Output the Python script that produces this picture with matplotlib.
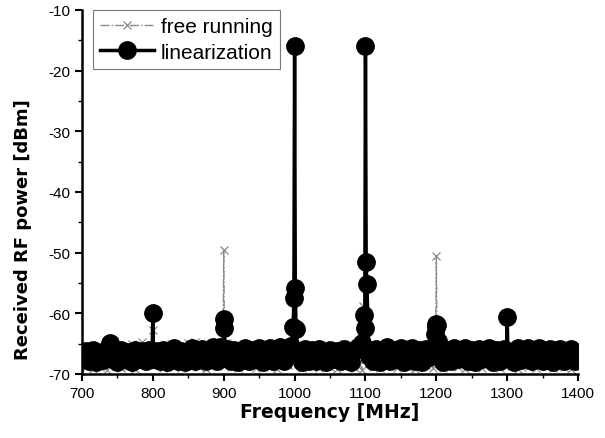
import matplotlib
matplotlib.use("Agg")
import matplotlib.pyplot as plt
from matplotlib.ticker import MultipleLocator

plt.rcParams['axes.unicode_minus'] = False

lin_freq = [700, 705, 710, 715, 720, 725, 730, 735, 740, 745, 750, 755, 760, 765, 770, 775, 780, 785, 790, 795,
            799, 800, 801, 805, 810, 815, 820, 825, 830, 835, 840, 845, 850, 855, 860, 865, 870, 875, 880, 885,
            890, 895, 899, 900, 901, 902, 905, 910, 915, 920, 925, 930, 935, 940, 945, 950, 955, 960, 965, 970,
            975, 980, 985, 990, 995, 998, 999, 1000, 1001, 1002, 1005, 1010, 1015, 1020, 1025, 1030, 1035, 1040,
            1045, 1050, 1055, 1060, 1065, 1070, 1075, 1080, 1085, 1090, 1095, 1098, 1099, 1100, 1101, 1102, 1105,
            1110, 1115, 1120, 1125, 1130, 1135, 1140, 1145, 1150, 1155, 1160, 1165, 1170, 1175, 1180, 1185, 1190,
            1195, 1198, 1199, 1200, 1201, 1202, 1205, 1210, 1215, 1220, 1225, 1230, 1235, 1240, 1245, 1250, 1255,
            1260, 1265, 1270, 1275, 1280, 1285, 1290, 1295, 1299, 1300, 1301, 1305, 1310, 1315, 1320, 1325, 1330,
            1335, 1340, 1345, 1350, 1355, 1360, 1365, 1370, 1375, 1380, 1385, 1390, 1395, 1400]
lin_pwr = [-67.2, -66.3, -67.9, -66.0, -68.0, -66.6, -67.7, -65.9, -64.9, -67.0, -68.0, -66.0, -67.6, -66.4, -68.1,
           -66.0, -67.5, -66.2, -67.9, -66.1,
           -67.0, -60.0, -67.5, -66.2, -67.9, -66.0, -68.0, -66.5, -65.8, -67.8, -66.2, -68.0, -66.4, -65.7, -67.8,
           -66.6, -65.9, -67.9, -66.3, -65.6,
           -67.8, -65.6, -66.5, -61.0, -62.5, -66.4, -65.9, -67.9, -66.1, -68.0, -66.3, -65.7, -67.9, -66.1, -67.6,
           -65.8, -68.0, -66.4, -65.8, -67.8,
           -66.2, -65.6, -67.8, -66.0, -65.4, -62.2, -57.5, -16.0, -55.8, -62.6, -66.8, -68.0, -65.9, -67.8, -66.1,
           -67.9, -65.9, -67.4,
           -68.0, -66.0, -67.6, -66.3, -67.9, -65.9, -66.8, -68.0, -66.1, -65.6, -64.9, -60.3, -62.5, -16.0, -51.5,
           -55.2, -67.0,
           -67.9, -65.9, -68.0, -66.2, -65.6, -67.9, -66.0, -67.6, -65.8, -68.0, -66.3, -65.8, -67.8, -66.0, -68.0,
           -65.9, -67.2,
           -65.7, -63.5, -62.2, -61.8, -62.0, -64.5, -66.6, -68.0, -66.0, -67.8, -65.8, -67.5, -66.4, -65.7, -67.9,
           -66.1, -68.0,
           -65.9, -67.6, -66.3, -65.8, -68.0, -66.0, -67.8, -65.9, -66.8, -60.6, -67.0, -66.4, -68.0, -65.8, -67.7,
           -66.2, -65.7,
           -67.9, -66.0, -65.8, -67.9, -66.2, -65.9, -68.0, -66.1, -65.9, -67.8, -66.3, -65.9, -67.9, -66.5]

fr_freq = [700, 705, 710, 715, 720, 725, 730, 735, 740, 745, 750, 755, 760, 765, 770, 775, 780, 785, 790, 795,
           799, 800, 801, 805, 810, 815, 820, 825, 830, 835, 840, 845, 850, 855, 860, 865, 870, 875, 880, 885,
           890, 895, 899, 900, 901, 905, 910, 915, 920, 925, 930, 935, 940, 945, 950, 955, 960, 965, 970, 975,
           980, 985, 990, 995, 999, 1000, 1001, 1005, 1010, 1015, 1020, 1025, 1030, 1035, 1040, 1045, 1050, 1055,
           1060, 1065, 1070, 1075, 1080, 1085, 1090, 1095, 1097, 1099, 1100, 1101, 1105, 1110, 1115, 1120, 1125,
           1130, 1135, 1140, 1145, 1150, 1155, 1160, 1165, 1170, 1175, 1180, 1185, 1190, 1195, 1199, 1200, 1201,
           1205, 1210, 1215, 1220, 1225, 1230, 1235, 1240, 1245, 1250, 1255, 1260, 1265, 1270, 1275, 1280, 1285,
           1290, 1295, 1300, 1305, 1310, 1315, 1320, 1325, 1330, 1335, 1340, 1345, 1350, 1355, 1360, 1365, 1370,
           1375, 1380, 1385, 1390, 1395, 1400]
fr_pwr = [-67.5, -68.8, -66.0, -69.2, -67.0, -68.9, -66.5, -69.3, -67.2, -64.6, -68.5, -69.0, -66.8, -68.7, -65.0,
          -69.2, -66.9, -64.7, -68.4, -66.2,
          -67.0, -62.8, -68.0, -68.6, -66.3, -69.1, -67.0, -65.1, -68.8, -66.4, -69.0, -67.1, -64.9, -68.5, -64.8,
          -68.9, -66.6, -69.2, -67.0, -65.3,
          -68.7, -66.1, -66.5, -49.5, -64.9, -64.9, -68.8, -66.5, -69.1, -67.2, -65.2, -68.6, -66.8, -69.0, -66.0,
          -68.4, -65.4, -68.9, -66.7, -69.2,
          -67.0, -65.3, -68.5, -66.2, -66.0, -16.0, -66.5, -66.8, -69.0, -67.1, -65.2, -68.7, -66.4, -69.1, -67.0,
          -65.5, -68.8, -66.6,
          -69.2, -67.3, -65.0, -68.5, -66.3, -69.0, -67.5, -69.3, -58.8, -66.0, -16.0, -66.2, -65.2, -68.9, -66.5,
          -69.1, -67.0,
          -65.3, -68.6, -66.4, -69.0, -67.2, -65.1, -68.8, -66.7, -69.2, -67.0, -65.4, -68.5, -66.2, -69.0, -66.4,
          -50.5, -66.8,
          -67.3, -69.1, -66.0, -68.7, -65.5, -68.9, -66.8, -69.2, -67.1, -65.3, -68.6, -66.5, -69.0, -67.2, -65.6,
          -68.8, -66.3,
          -69.1, -67.0, -65.5, -68.7, -66.4, -69.2, -67.1, -65.2, -68.9, -66.6, -69.0, -67.3, -65.4, -68.5, -66.2,
          -69.1, -67.0,
          -65.5, -68.8, -66.7, -69.2, -67.1, -66.0]

x_ticks = [700, 800, 900, 1000, 1100, 1200, 1300, 1400]
y_ticks = [-70, -60, -50, -40, -30, -20, -10]

fig = plt.figure(figsize=(6.05, 4.39), dpi=100)
ax = fig.add_axes([0.1355, 0.146, 0.82, 0.829])

ax.plot(fr_freq, fr_pwr, color='#8a8a8a', linestyle='-.', linewidth=1.0, marker='x',
        markersize=6, markeredgewidth=0.9, label='free running', zorder=2)
ax.plot(lin_freq, lin_pwr, color='black', linestyle='-', linewidth=2.5, marker='o',
        markersize=12.5, label='linearization', zorder=3)

ax.set_xlim(700, 1400)
ax.set_ylim(-70, -10)
ax.set_xticks(x_ticks)
ax.set_yticks(y_ticks)
ax.xaxis.set_minor_locator(MultipleLocator(50))
ax.yaxis.set_minor_locator(MultipleLocator(5))
ax.tick_params(which='major', direction='out', length=5, width=1.5, labelsize=11)
ax.tick_params(which='minor', direction='out', length=3, width=1.0)
for lab in ax.get_xticklabels() + ax.get_yticklabels():
    lab.set_fontfamily('Liberation Sans')

for s in ['top', 'right']:
    ax.spines[s].set_visible(False)
for s in ['left', 'bottom']:
    ax.spines[s].set_linewidth(1.8)

ax.set_xlabel('Frequency [MHz]', fontsize=13.5, fontweight='bold', labelpad=2)
ax.set_ylabel('Received RF power [dBm]', fontsize=13, fontweight='bold')
ax.yaxis.set_label_coords(-0.10, 0.40)

leg = ax.legend(loc='upper left', bbox_to_anchor=(0.022, 1.0), borderaxespad=0.0, fancybox=False,
                edgecolor='#777777', prop={'family': 'Liberation Sans', 'size': 15},
                handlelength=2.6, handletextpad=0.3, borderpad=0.35, labelspacing=0.3, framealpha=1.0)
leg.get_frame().set_linewidth(0.8)

fig.savefig('out.png', dpi=100)
